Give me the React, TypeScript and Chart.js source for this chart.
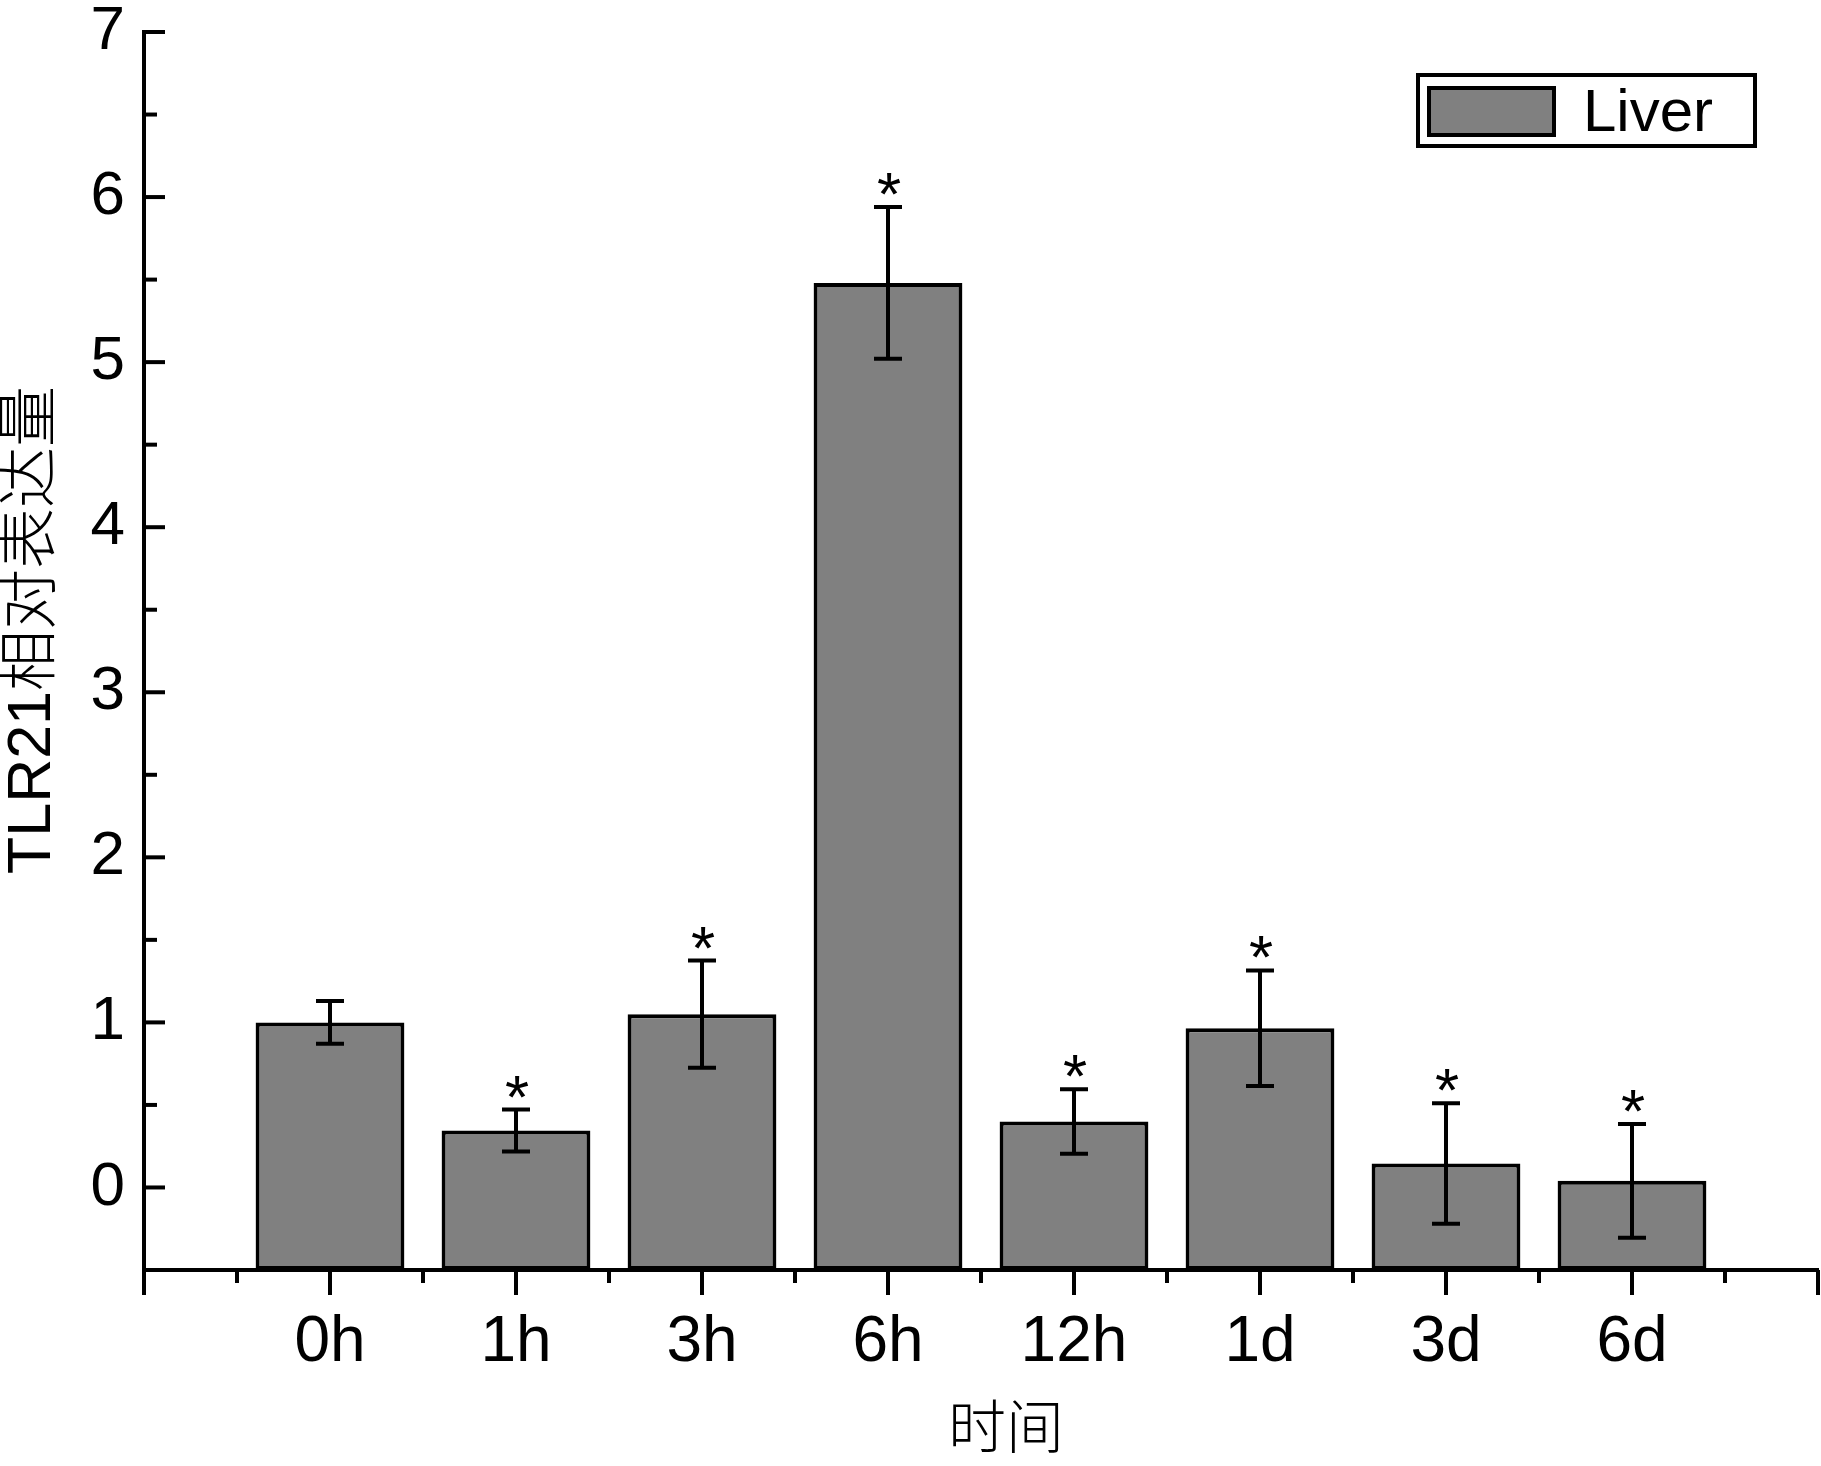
import React, { useEffect, useRef } from "react";
import { Chart, registerables } from "chart.js";

Chart.register(...registerables);

const categories = ["0h", "1h", "3h", "6h", "12h", "1d", "3d", "6d"];
const means = [1.0, 0.345, 1.05, 5.48, 0.4, 0.965, 0.145, 0.04];
const errors = [0.13, 0.127, 0.325, 0.46, 0.195, 0.35, 0.365, 0.345];
const significant = [false, true, true, true, true, true, true, true];
const yTickValues = [0, 1, 2, 3, 4, 5, 6, 7];
const yMin = -0.5;
const yMax = 7;
const xMin = -1;
const xMax = 8;
const seriesLabel = "Liver";
const xTitle = "时间";
const yTitle = "TLR21相对表达量";

const W = 1821;
const H = 1466;
const LATIN = '"Liberation Sans", Arial, "Noto Sans CJK SC", sans-serif';
const CJK = '"Liberation Sans", "Noto Sans CJK SC", sans-serif';

const axisTicksPlugin = {
  id: "axisTicks",
  afterDraw(chart: any) {
    const { ctx, scales, chartArea } = chart;
    const xs = scales.x;
    const ys = scales.y;
    ctx.save();
    ctx.strokeStyle = "#000";
    ctx.lineWidth = 4;
    ctx.lineCap = "butt";
    for (let v = xMin; v <= xMax + 1e-9; v += 0.5) {
      const px = xs.getPixelForValue(v);
      const major = Math.abs(v - Math.round(v)) < 1e-9;
      const len = major ? 25 : 13;
      ctx.beginPath();
      ctx.moveTo(px, chartArea.bottom);
      ctx.lineTo(px, chartArea.bottom + len);
      ctx.stroke();
    }
    for (let v = yMin + 0.5; v <= yMax + 1e-9; v += 0.5) {
      const py = ys.getPixelForValue(v);
      const major = Math.abs(v - Math.round(v)) < 1e-9;
      const len = major ? 21 : 13;
      ctx.beginPath();
      ctx.moveTo(chartArea.left, py);
      ctx.lineTo(chartArea.left + len, py);
      ctx.stroke();
    }
    ctx.restore();
  },
};

const errorBarsPlugin = {
  id: "errorBars",
  afterDatasetsDraw(chart: any) {
    const { ctx, scales } = chart;
    const xs = scales.x;
    const ys = scales.y;
    ctx.save();
    ctx.strokeStyle = "#000";
    ctx.lineWidth = 4;
    ctx.fillStyle = "#000";
    ctx.font = `62px ${LATIN}`;
    ctx.textAlign = "center";
    ctx.textBaseline = "alphabetic";
    means.forEach((m, i) => {
      const px = xs.getPixelForValue(i);
      const top = ys.getPixelForValue(m + errors[i]);
      const bot = ys.getPixelForValue(m - errors[i]);
      const cap = 14;
      ctx.beginPath();
      ctx.moveTo(px, top);
      ctx.lineTo(px, bot);
      ctx.moveTo(px - cap, top);
      ctx.lineTo(px + cap, top);
      ctx.moveTo(px - cap, bot);
      ctx.lineTo(px + cap, bot);
      ctx.stroke();
      if (significant[i]) {
        ctx.fillText("*", px + 1, top + 8);
      }
    });
    ctx.restore();
  },
};

const legendBoxPlugin = {
  id: "legendBox",
  afterDraw(chart: any) {
    const { ctx } = chart;
    const ds = chart.data.datasets[0];
    ctx.save();
    ctx.strokeStyle = "#000";
    ctx.lineWidth = 4;
    ctx.fillStyle = "#fff";
    ctx.fillRect(1418, 75, 337, 71);
    ctx.strokeRect(1418, 75, 337, 71);
    ctx.fillStyle = ds.backgroundColor;
    ctx.fillRect(1429, 88, 125, 47);
    ctx.strokeRect(1429, 88, 125, 47);
    ctx.fillStyle = "#000";
    ctx.font = `60px ${LATIN}`;
    ctx.textAlign = "left";
    ctx.textBaseline = "alphabetic";
    ctx.fillText(ds.label, 1583, 131);
    ctx.restore();
  },
};

const titlesPlugin = {
  id: "axisTitles",
  afterDraw(chart: any) {
    const { ctx } = chart;
    ctx.save();
    ctx.fillStyle = "#000";
    ctx.textAlign = "center";
    ctx.textBaseline = "middle";
    ctx.font = `300 61px ${CJK}`;
    ctx.save();
    ctx.translate(33, 630);
    ctx.rotate(-Math.PI / 2);
    ctx.fillText(yTitle, 0, 0);
    ctx.restore();
    ctx.font = `300 58px ${CJK}`;
    ctx.fillText(xTitle, 1006, 1432);
    ctx.restore();
  },
};

export default function App() {
  const ref = useRef<HTMLCanvasElement | null>(null);

  useEffect(() => {
    if (!ref.current) return;
    const chart = new Chart(ref.current, {
      type: "bar",
      data: {
        datasets: [
          {
            label: seriesLabel,
            data: means.map((m, i) => ({ x: i, y: m })),
            backgroundColor: "#808080",
            borderColor: "#000",
            borderWidth: 4,
            borderSkipped: false,
            base: yMin,
            categoryPercentage: 0.8,
            barPercentage: 1,
          } as any,
        ],
      },
      options: {
        responsive: false,
        devicePixelRatio: 1,
        animation: false,
        layout: { padding: { left: 0, top: 32, right: 3, bottom: 0 } },
        plugins: {
          legend: { display: false },
          tooltip: { enabled: false },
          title: { display: false },
        },
        scales: {
          x: {
            type: "linear",
            min: xMin,
            max: xMax,
            offset: false,
            grid: { display: false, drawTicks: false, offset: false },
            border: { display: true, color: "#000", width: 4 },
            afterBuildTicks: (scale: any) => {
              const t = [];
              for (let v = xMin; v <= xMax; v++) t.push({ value: v });
              scale.ticks = t;
            },
            ticks: {
              autoSkip: false,
              maxRotation: 0,
              minRotation: 0,
              padding: 35,
              color: "#000",
              font: { family: LATIN, size: 64 },
              callback: (v: any) => {
                const i = Math.round(Number(v));
                return i >= 0 && i < categories.length ? categories[i] : "";
              },
            },
            afterFit: (scale: any) => {
              scale.height = H - 1270;
              scale.paddingLeft = 0;
              scale.paddingRight = 0;
              scale.paddingTop = 0;
              scale.paddingBottom = 0;
            },
          } as any,
          y: {
            type: "linear",
            min: yMin,
            max: yMax,
            grid: { display: false, drawTicks: false },
            border: { display: true, color: "#000", width: 4 },
            afterBuildTicks: (scale: any) => {
              scale.ticks = yTickValues.map((v) => ({ value: v }));
            },
            ticks: {
              padding: 19,
              color: "#000",
              font: { family: LATIN, size: 62 },
              callback: (v: any) => String(v),
            },
            afterFit: (scale: any) => {
              scale.width = 144;
              scale.paddingLeft = 0;
              scale.paddingRight = 0;
              scale.paddingTop = 0;
              scale.paddingBottom = 0;
            },
          } as any,
        },
      },
      plugins: [axisTicksPlugin, errorBarsPlugin, legendBoxPlugin, titlesPlugin],
    });
    return () => chart.destroy();
  }, []);

  return (
    <div style={{ position: "absolute", left: 0, top: 0, width: W, height: H, background: "#fff" }}>
      <canvas ref={ref} width={W} height={H} style={{ width: W, height: H, display: "block" }} />
    </div>
  );
}
